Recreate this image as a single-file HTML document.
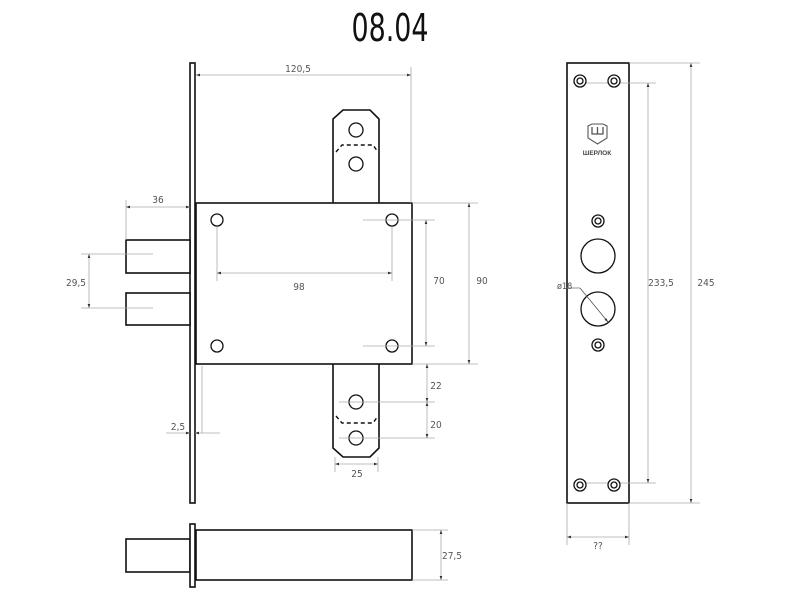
<!DOCTYPE html>
<html><head><meta charset="utf-8"><style>
html,body{margin:0;padding:0;background:#fff;width:800px;height:611px;overflow:hidden}
svg{display:block}
text{font-family:"DejaVu Sans Condensed","Liberation Sans",sans-serif;fill:#555;font-size:10px}
.o{fill:#fff;stroke:#111;stroke-width:1.6}
.d{stroke:#aaa;stroke-width:0.8;fill:none}
.c{fill:#fff;stroke:#111;stroke-width:1.3}
</style></head><body>
<svg width="800" height="611" viewBox="0 0 800 611" xmlns="http://www.w3.org/2000/svg">
<defs>
<marker id="a" viewBox="0 0 6 6" refX="6" refY="3" markerWidth="5" markerHeight="5" orient="auto-start-reverse"><path d="M0,1 L6,3 L0,5z" fill="#333"/></marker>
</defs>
<text x="390" y="41" text-anchor="middle" style="font-size:38px;fill:#111" textLength="77" lengthAdjust="spacingAndGlyphs">08.04</text>

<!-- front view -->
<rect class="o" x="190" y="63" width="5" height="440"/>
<rect class="o" x="126" y="240" width="64" height="33"/>
<rect class="o" x="126" y="293" width="64" height="32"/>
<path class="o" d="M333,203 L333,119 L343,110 L370,110 L379,119 L379,203"/>
<path class="o" d="M333,364 L333,448 L343,457 L370,457 L379,448 L379,364"/>
<rect class="o" x="196" y="203" width="216" height="161"/>
<circle class="c" cx="356" cy="130" r="7"/><circle class="c" cx="356" cy="164" r="7"/>
<path d="M336,152 L342,145 L373,145 L378,152" fill="none" stroke="#111" stroke-width="1.4" stroke-dasharray="4,3"/>
<circle class="c" cx="356" cy="402" r="7"/><circle class="c" cx="356" cy="438" r="7"/>
<path d="M336,416 L342,423 L373,423 L378,416" fill="none" stroke="#111" stroke-width="1.4" stroke-dasharray="4,3"/>
<circle class="c" cx="217" cy="220" r="6"/><circle class="c" cx="392" cy="220" r="6"/>
<circle class="c" cx="217" cy="346" r="6"/><circle class="c" cx="392" cy="346" r="6"/>

<!-- dims front -->
<line class="d" x1="411" y1="67" x2="411" y2="203"/>
<line class="d" x1="196" y1="75" x2="411" y2="75" marker-start="url(#a)" marker-end="url(#a)"/>
<text x="298" y="72" text-anchor="middle">120,5</text>
<line class="d" x1="126" y1="200" x2="126" y2="240"/>
<line class="d" x1="126" y1="207" x2="190" y2="207" marker-start="url(#a)" marker-end="url(#a)"/>
<text x="158" y="203" text-anchor="middle">36</text>
<line class="d" x1="81" y1="254" x2="153" y2="254"/>
<line class="d" x1="81" y1="308" x2="153" y2="308"/>
<line class="d" x1="89" y1="254" x2="89" y2="308" marker-start="url(#a)" marker-end="url(#a)"/>
<text x="76" y="286" text-anchor="middle">29,5</text>
<line class="d" x1="217" y1="227" x2="217" y2="281"/>
<line class="d" x1="392" y1="227" x2="392" y2="281"/>
<line class="d" x1="217" y1="273" x2="392" y2="273" marker-start="url(#a)" marker-end="url(#a)"/>
<text x="299" y="290" text-anchor="middle">98</text>
<line class="d" x1="363" y1="220" x2="435" y2="220"/>
<line class="d" x1="363" y1="346" x2="435" y2="346"/>
<line class="d" x1="426" y1="220" x2="426" y2="346" marker-start="url(#a)" marker-end="url(#a)"/>
<text x="439" y="284" text-anchor="middle">70</text>
<line class="d" x1="412" y1="203" x2="478" y2="203"/>
<line class="d" x1="412" y1="364" x2="478" y2="364"/>
<line class="d" x1="469" y1="203" x2="469" y2="364" marker-start="url(#a)" marker-end="url(#a)"/>
<text x="482" y="284" text-anchor="middle">90</text>
<line class="d" x1="339" y1="402" x2="435" y2="402"/>
<line class="d" x1="339" y1="438" x2="435" y2="438"/>
<line class="d" x1="427" y1="364" x2="427" y2="402" marker-start="url(#a)" marker-end="url(#a)"/>
<line class="d" x1="427" y1="402" x2="427" y2="438" marker-start="url(#a)" marker-end="url(#a)"/>
<text x="436" y="389" text-anchor="middle">22</text>
<text x="436" y="428" text-anchor="middle">20</text>
<line class="d" x1="335" y1="457" x2="335" y2="472"/>
<line class="d" x1="378" y1="457" x2="378" y2="472"/>
<line class="d" x1="335" y1="464" x2="378" y2="464" marker-start="url(#a)" marker-end="url(#a)"/>
<text x="357" y="477" text-anchor="middle">25</text>
<line class="d" x1="166" y1="433" x2="190" y2="433" marker-end="url(#a)"/>
<line class="d" x1="220" y1="433" x2="195" y2="433" marker-end="url(#a)"/>
<line class="d" x1="202" y1="366" x2="202" y2="433"/>
<text x="178" y="430" text-anchor="middle">2,5</text>

<!-- bottom view -->
<rect class="o" x="126" y="539" width="64" height="33"/>
<rect class="o" x="190" y="524" width="5" height="63"/>
<rect class="o" x="196" y="530" width="216" height="50"/>
<line class="d" x1="412" y1="530" x2="448" y2="530"/>
<line class="d" x1="412" y1="580" x2="448" y2="580"/>
<line class="d" x1="441" y1="530" x2="441" y2="580" marker-start="url(#a)" marker-end="url(#a)"/>
<text x="452" y="559" text-anchor="middle">27,5</text>

<!-- right faceplate -->
<rect class="o" x="567" y="63" width="62" height="440"/>
<line class="d" x1="573" y1="83" x2="656" y2="83"/>
<line class="d" x1="573" y1="483" x2="656" y2="483"/>
<line class="d" x1="629" y1="63" x2="700" y2="63"/>
<line class="d" x1="629" y1="503" x2="700" y2="503"/>
<g>
<circle class="c" cx="580" cy="81" r="6"/><circle class="c" cx="580" cy="81" r="3"/>
<circle class="c" cx="614" cy="81" r="6"/><circle class="c" cx="614" cy="81" r="3"/>
<circle class="c" cx="580" cy="485" r="6"/><circle class="c" cx="580" cy="485" r="3"/>
<circle class="c" cx="614" cy="485" r="6"/><circle class="c" cx="614" cy="485" r="3"/>
<circle class="c" cx="598" cy="221" r="6"/><circle class="c" cx="598" cy="221" r="3"/>
<circle class="c" cx="598" cy="345" r="6"/><circle class="c" cx="598" cy="345" r="3"/>
</g>
<circle class="c" cx="598" cy="256" r="17"/>
<circle class="c" cx="598" cy="309" r="17"/>
<line x1="580" y1="288" x2="608" y2="322" stroke="#555" stroke-width="0.8" marker-end="url(#a)"/>
<line x1="566" y1="288" x2="580" y2="288" stroke="#777" stroke-width="0.8"/>
<text x="557" y="289" style="font-size:9px">ø18</text>
<path d="M588,126 L592,124 L603,124 L607,126 L607,138 L597.5,144 L588,138 Z" fill="none" stroke="#555" stroke-width="1.1"/>
<path d="M592,127 L592,134 L603,134 L603,127 M597.5,127 L597.5,134" stroke="#555" stroke-width="1.3" fill="none"/>
<text x="597" y="155" text-anchor="middle" style="font-size:6.5px;font-weight:bold;fill:#444;font-family:'Liberation Sans',sans-serif">ШЕРЛОК</text>
<line class="d" x1="648" y1="83" x2="648" y2="483" marker-start="url(#a)" marker-end="url(#a)"/>
<text x="661" y="286" text-anchor="middle">233,5</text>
<line class="d" x1="691" y1="63" x2="691" y2="503" marker-start="url(#a)" marker-end="url(#a)"/>
<text x="706" y="286" text-anchor="middle">245</text>
<line class="d" x1="567" y1="503" x2="567" y2="545"/>
<line class="d" x1="629" y1="503" x2="629" y2="545"/>
<line class="d" x1="567" y1="537" x2="629" y2="537" marker-start="url(#a)" marker-end="url(#a)"/>
<text x="598" y="549" text-anchor="middle">??</text>
</svg>
</body></html>
